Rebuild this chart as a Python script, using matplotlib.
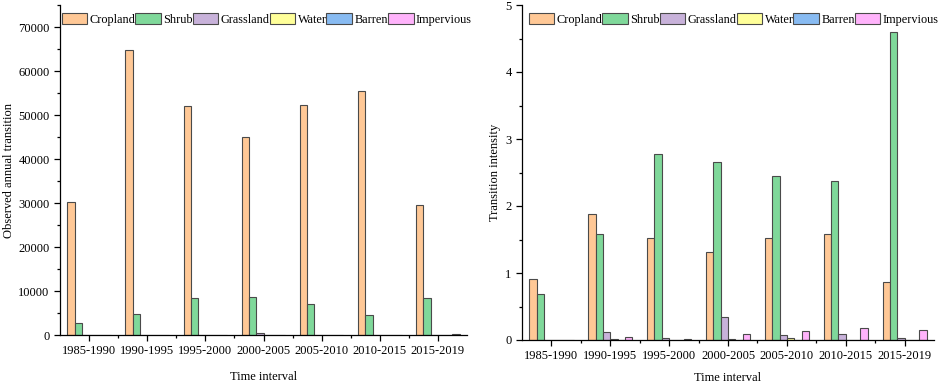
import numpy as np
import matplotlib
matplotlib.use('Agg')
import matplotlib.pyplot as plt
from matplotlib.ticker import MultipleLocator, FixedLocator

plt.rcParams['font.family'] = ['Liberation Serif', 'DejaVu Serif']
plt.rcParams['font.size'] = 9

intervals = ['1985-1990', '1990-1995', '1995-2000', '2000-2005',
             '2005-2010', '2010-2015', '2015-2019']
classes = ['Cropland', 'Shrub', 'Grassland', 'Water', 'Barren', 'Impervious']
colors = ['#ffc896', '#7fd89a', '#c8b2da', '#ffff99', '#88bbf2', '#ffb3fb']

# observed annual transition (left)
obs_cropland = [30300, 64800, 52000, 45000, 52300, 55500, 29550]
obs_shrub = [2740, 4790, 8440, 8580, 7140, 4560, 8350]
obs_grassland = [0, 100, 0, 350, 0, 0, 0]
obs_water = [0, 0, 0, 0, 0, 0, 0]
obs_barren = [0, 0, 0, 0, 0, 0, 0]
obs_impervious = [0, 0, 0, 0, 0, 100, 150]

# transition intensity (right)
int_cropland = [0.915, 1.885, 1.52, 1.32, 1.515, 1.575, 0.87]
int_shrub = [0.685, 1.575, 2.77, 2.65, 2.45, 2.37, 4.60]
int_grassland = [0, 0.12, 0.03, 0.345, 0.08, 0.09, 0.03]
int_water = [0, 0.01, 0, 0.02, 0.025, 0.005, 0]
int_barren = [0, 0, 0, 0, 0, 0, 0]
int_impervious = [0, 0.05, 0.02, 0.09, 0.13, 0.18, 0.15]

obs = [obs_cropland, obs_shrub, obs_grassland, obs_water, obs_barren, obs_impervious]
inten = [int_cropland, int_shrub, int_grassland, int_water, int_barren, int_impervious]

fig = plt.figure(figsize=(9.41, 3.86), dpi=100)
ax1 = fig.add_axes([60 / 941, 1 - 335 / 386, 407 / 941, 330 / 386])
ax2 = fig.add_axes([522 / 941, 1 - 340 / 386, 412 / 941, 335 / 386])

x = np.arange(len(intervals))
w = 0.125


def draw(ax, data, ylabel, ymax, major, minor, lx):
    for i, vals in enumerate(data):
        ax.bar(x + (i - 2.5) * w, vals, w, color=colors[i], edgecolor='#4a4a4a',
               linewidth=0.8, label=classes[i])
    ax.set_xlim(-0.5, 6.5)
    ax.set_ylim(0, ymax)
    ax.set_xticks(x)
    ax.set_xticklabels(intervals)
    ax.xaxis.set_minor_locator(FixedLocator(x[:-1] + 0.5))
    ax.yaxis.set_major_locator(MultipleLocator(major))
    ax.yaxis.set_minor_locator(MultipleLocator(minor))
    ax.tick_params(which='major', direction='out', length=4, width=0.9)
    ax.tick_params(which='minor', direction='out', length=2.5, width=0.9)
    for s in ['top', 'right']:
        ax.spines[s].set_visible(False)
    for s in ['left', 'bottom']:
        ax.spines[s].set_linewidth(0.9)
    ax.set_xlabel('Time interval', labelpad=7)
    ax.set_ylabel(ylabel)
    ax.legend(ncol=6, loc='upper left', bbox_to_anchor=(lx, 0.975), frameon=False,
              fontsize=8.8, handlelength=2.1, handleheight=1.0, handletextpad=0.2,
              columnspacing=-0.02, borderaxespad=0.0, borderpad=0.0)


draw(ax1, obs, 'Observed annual transition', 75000, 10000, 5000, 0.004)
draw(ax2, inten, 'Transition intensity', 5, 1, 0.5, 0.016)
ax1.yaxis.set_label_coords(-0.11, 0.5)
ax2.yaxis.set_label_coords(-0.052, 0.5)
ax1.xaxis.set_label_coords(0.5, -0.11)

plt.savefig('out.png', dpi=100)
